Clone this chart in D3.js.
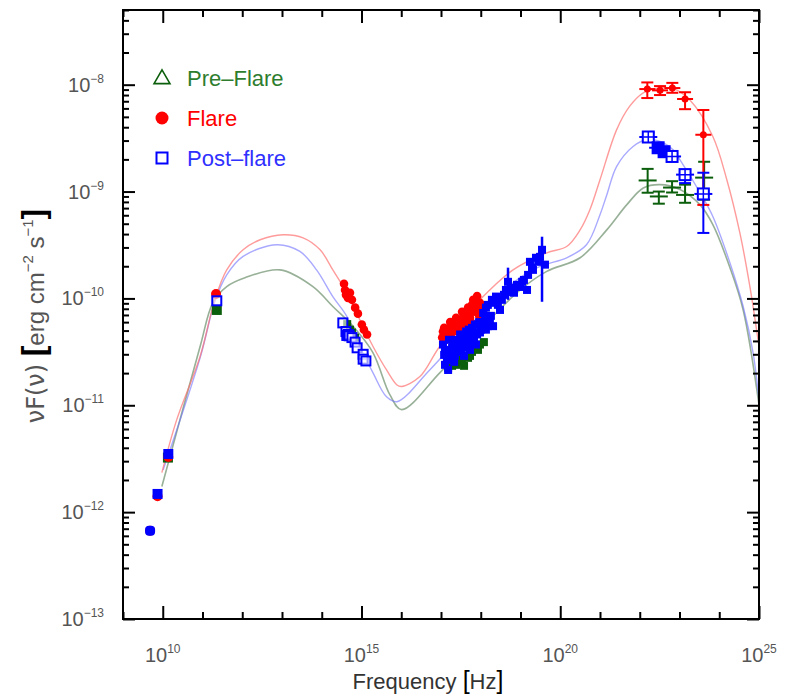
<!DOCTYPE html>
<html>
<head>
<meta charset="utf-8">
<script src="https://cdn.jsdelivr.net/npm/d3@7/dist/d3.min.js"></script>
<style>
body{margin:0;background:#fff;}
text{font-family:"Liberation Sans",Arial,sans-serif;}
</style>
</head>
<body>
<svg id="chart" width="803" height="700"></svg>
<script>
// ---------------- data ----------------
const xMajorExponents = [10, 15, 20, 25];
const yMajorExponents = [-8, -9, -10, -11, -12, -13];
const legendLabels = ["Pre\u2013Flare", "Flare", "Post\u2013flare"];

// model curves (Hz, erg cm^-2 s^-1)
const modelFlareNu   = [9.5e9, 2.24e10, 8.7e10, 2.04e11, 4.07e11, 1.05e12, 2.82e12, 1.07e13, 3.39e13, 9.1e13, 1.9e14, 4.27e14, 9.1e14, 1.95e15, 4.27e15, 7.8e15, 1.02e16, 2.95e16, 9.3e16, 9.5e17, 6.5e18, 4.57e19, 1.45e20, 3.16e20, 5.6e20, 1.0e21, 2.63e21, 5.6e21, 1.23e22, 3.24e22, 7.0e22, 1.82e23, 6.9e23, 1.55e24, 3.3e24, 5.9e24, 1e25];
const modelFlareFlux = [2.34e-12, 7.3e-12, 2.86e-11, 9.7e-11, 1.85e-10, 2.85e-10, 3.54e-10, 3.94e-10, 3.69e-10, 2.85e-10, 1.85e-10, 1.13e-10, 6.3e-11, 3.55e-11, 2.14e-11, 1.55e-11, 1.5e-11, 1.86e-11, 3.55e-11, 9.7e-11, 1.85e-10, 2.67e-10, 3.06e-10, 4.38e-10, 6.8e-10, 1.29e-9, 3.8e-9, 6.3e-9, 8.4e-9, 9.3e-9, 9.2e-9, 7.2e-9, 3.28e-9, 1.29e-9, 4.1e-10, 1.29e-10, 3.55e-11];

const modelPostNu   = [1.02e10, 8.7e10, 2.04e11, 4.07e11, 1.05e12, 7.4e12, 2.82e13, 7.4e13, 1.9e14, 4.27e14, 9.1e14, 1.95e15, 4.27e15, 7.8e15, 5.2e16, 9.5e17, 6.5e18, 3.1e19, 1.45e20, 4.57e20, 1.0e21, 1.48e21, 2.63e21, 6.8e21, 1.48e22, 3.24e22, 6.9e22, 1.02e23, 3.3e23, 6.9e23, 1.86e24, 4.0e24, 7.1e24, 1e25];
const modelPostFlux = [2.48e-12, 2.78e-11, 9.3e-11, 1.66e-10, 2.47e-10, 3.18e-10, 2.75e-10, 1.85e-10, 1.04e-10, 6.8e-11, 3.55e-11, 2.01e-11, 1.2e-11, 1.08e-11, 2.14e-11, 7.0e-11, 1.4e-10, 1.99e-10, 2.4e-10, 3.18e-10, 6.07e-10, 9.3e-10, 1.72e-9, 2.64e-9, 3.05e-9, 2.94e-9, 2.46e-9, 1.99e-9, 9.75e-10, 5.85e-10, 2.15e-10, 8.4e-11, 3.1e-11, 1.12e-11];

const modelPreNu   = [9.5e9, 8.7e10, 1.82e11, 4.07e11, 1.17e12, 8.9e12, 6.0e13, 1.9e14, 6.2e14, 1.95e15, 5.2e15, 1.02e16, 9.3e16, 9.5e17, 9.8e18, 4.57e19, 3.16e20, 1.48e21, 4.68e21, 1.23e22, 3.24e22, 1e23, 3.3e23, 6.9e23, 1.86e24, 4.0e24, 1e25];
const modelPreFlux = [1.74e-12, 3.55e-11, 9.1e-11, 1.29e-10, 1.56e-10, 1.85e-10, 1.29e-10, 8.4e-11, 5.46e-11, 3.1e-11, 1.25e-11, 9.1e-12, 2.01e-11, 5.1e-11, 1.2e-10, 1.79e-10, 2.4e-10, 4.38e-10, 7.5e-10, 1.08e-9, 1.16e-9, 1.05e-9, 7.5e-10, 4.9e-10, 1.94e-10, 7.8e-11, 1.01e-11];

// Pre-flare observations (first two: radio, larger markers)
const preNu   = [1.35e10, 2.29e11, 4.37e14, 5.13e14, 5.75e14, 6.9e14, 1.51e17, 1.7e17, 1.9e17, 2.4e17, 3.02e17, 3.39e17, 3.8e17, 4.79e17, 5.37e17, 6.03e17, 7.59e17, 8.51e17, 9.55e17, 1.2e18];
const preFlux = [3.24e-12, 7.8e-11, 5.75e-11, 5.1e-11, 4.8e-11, 4.3e-11, 2.24e-11, 2.66e-11, 2.34e-11, 2.39e-11, 2.55e-11, 2.66e-11, 2.34e-11, 2.78e-11, 2.9e-11, 3.16e-11, 3.45e-11, 3.3e-11, 3.7e-11, 3.9e-11];
const preGammaNu   = [1.58e22, 3.02e22, 6.5e22, 1.38e23, 4.17e23];
const preGammaFlux = [1.27e-9, 9.0e-10, 1.09e-9, 9.3e-10, 1.35e-9];
const preGammaLo   = [9.75e-10, 7.7e-10, 9.8e-10, 7.85e-10, 8.4e-10];
const preGammaHi   = [1.63e-9, 1.0e-9, 1.25e-9, 1.16e-9, 1.9e-9];

// Flare observations (first four: radio)
const flareNu   = [4.8e9, 7.4e9, 1.38e10, 2.19e11, 3.63e14, 3.85e14, 4.07e14, 4.57e14, 5.13e14, 5.75e14, 6.92e14, 8.13e14, 1.02e15, 1.15e15, 1.38e15,
  1.07e17, 1.12e17, 1.2e17, 1.35e17, 1.41e17, 1.51e17, 1.7e17, 1.78e17, 1.9e17, 2.14e17, 2.24e17, 2.4e17, 2.51e17, 2.69e17, 3.02e17, 3.16e17, 3.39e17, 3.55e17, 3.8e17, 4.27e17, 4.47e17, 4.79e17, 5.0e17, 5.37e17, 5.6e17, 6.03e17, 6.46e17, 6.76e17, 7.2e17, 7.59e17, 8.1e17, 8.51e17, 9.1e17, 9.55e17, 1.07e18, 1.29e18];
const flareFlux = [6.7e-13, 1.41e-12, 3.28e-12, 1.1e-10, 1.37e-10, 1.2e-10, 1.08e-10, 1.01e-10, 1.13e-10, 9.7e-11, 8.2e-11, 7.2e-11, 5.7e-11, 5.1e-11, 4.6e-11,
  4.3e-11, 4.9e-11, 5.3e-11, 4.1e-11, 4.6e-11, 5.1e-11, 6.0e-11, 5.4e-11, 4.8e-11, 5.7e-11, 4.95e-11, 6.6e-11, 6.0e-11, 5.1e-11, 6.3e-11, 5.7e-11, 7.5e-11, 6.6e-11, 5.8e-11, 7.0e-11, 6.3e-11, 8.2e-11, 7.5e-11, 6.6e-11, 6.0e-11, 8.7e-11, 9.7e-11, 7.5e-11, 8.5e-11, 9.7e-11, 1.05e-10, 7.8e-11, 6.9e-11, 9.1e-11, 7.2e-11, 8.2e-11];
const flareGammaNu   = [1.55e22, 3.24e22, 6.6e22, 1.38e23, 3.98e23];
const flareGammaFlux = [9.1e-9, 8.85e-9, 9.3e-9, 7.35e-9, 3.4e-9];
const flareGammaLo   = [7.5e-9, 8.0e-9, 8.4e-9, 5.9e-9, 7.5e-10];
const flareGammaHi   = [1.05e-8, 9.7e-9, 1.04e-8, 8.5e-9, 5.8e-9];

// Post-flare observations
const postRadioNu   = [4.8e9, 7.4e9, 1.38e10];
const postRadioFlux = [6.7e-13, 1.48e-12, 3.5e-12];
const postOpenNu    = [2.29e11, 3.39e14, 4.07e14, 4.27e14, 4.68e14, 4.9e14, 5.75e14, 6.9e14, 7.76e14, 1.1e15, 1.1e15, 1.29e15];
const postOpenFlux  = [9.5e-11, 5.9e-11, 4.9e-11, 4.5e-11, 4.6e-11, 4.47e-11, 4.3e-11, 3.9e-11, 3.45e-11, 3.0e-11, 2.7e-11, 2.6e-11];
const postXrayNu   = [1.12e17, 1.2e17, 1.26e17, 1.26e17, 1.35e17, 1.41e17, 1.51e17, 1.59e17, 1.7e17, 1.78e17, 1.9e17, 2.0e17, 2.14e17, 2.24e17, 2.4e17, 2.51e17, 2.69e17, 2.82e17, 3.02e17, 3.16e17, 3.39e17, 3.55e17, 3.8e17, 3.98e17, 4.27e17, 4.47e17, 4.79e17, 5.0e17, 5.37e17, 5.6e17, 6.03e17, 6.3e17, 6.76e17, 7.1e17, 7.59e17, 8.1e17, 8.51e17, 9.1e17, 9.55e17, 1.0e18, 1.15e18, 1.29e18, 1.35e18, 1.51e18, 1.7e18, 1.8e18, 2.04e18,
  1.15e18, 1.35e18, 1.51e18, 1.91e18, 2.2e18, 2.42e18, 2.7e18, 3.05e18, 3.4e18, 3.85e18, 4.3e18, 4.85e18, 5.77e18, 6.3e18, 6.86e18, 8.17e18, 9.7e18, 1.1e19, 1.22e19, 1.46e19, 1.55e19, 1.73e19, 1.95e19, 2.06e19, 2.45e19, 2.8e19, 3.1e19, 3.48e19, 4.13e19];
const postXrayFlux = [3.7e-11, 2.96e-11, 2.39e-11, 3.16e-11, 3.3e-11, 2.66e-11, 2.14e-11, 4.1e-11, 2.78e-11, 3.16e-11, 3.45e-11, 3.84e-11, 2.55e-11, 2.9e-11, 4.1e-11, 3.6e-11, 3.16e-11, 3.9e-11, 4.6e-11, 3.16e-11, 3.7e-11, 4.3e-11, 2.9e-11, 3.45e-11, 4.9e-11, 4.3e-11, 3.9e-11, 5.1e-11, 3.3e-11, 4.1e-11, 5.3e-11, 4.8e-11, 4.3e-11, 5.7e-11, 3.7e-11, 4.6e-11, 5.7e-11, 6.0e-11, 4.8e-11, 5.1e-11, 6.0e-11, 6.6e-11, 5.1e-11, 5.5e-11, 6.3e-11, 6.87e-11, 5.5e-11,
  7.3e-11, 8.2e-11, 8.7e-11, 9.7e-11, 9.1e-11, 1.04e-10, 8.7e-11, 7.8e-11, 9.7e-11, 1.08e-10, 1.2e-10, 1.43e-10, 1.15e-10, 1.26e-10, 1.13e-10, 1.34e-10, 1.28e-10, 1.43e-10, 1.49e-10, 1.2e-10, 1.66e-10, 2.2e-10, 1.94e-10, 1.85e-10, 2.4e-10, 2.2e-10, 2.45e-10, 2.85e-10, 2.07e-10];
const postXrayErrNu = [4.85e18, 3.48e19];
const postXrayErrLo = [9.7e-11, 9.3e-11];
const postXrayErrHi = [1.94e-10, 3.78e-10];
const postGammaNu   = [1.64e22, 2.9e22, 4.1e22, 6.5e22, 1.38e23, 3.98e23];
const postGammaFlux = [3.24e-9, 2.57e-9, 2.36e-9, 2.13e-9, 1.44e-9, 9.5e-10];
const postGammaLo   = [2.95e-9, 2.4e-9, 2.2e-9, 2.0e-9, 1.2e-9, 4.1e-10];
const postGammaHi   = [3.55e-9, 2.75e-9, 2.5e-9, 2.27e-9, 1.6e-9, 1.5e-9];
const postGammaFilled = [false, true, true, false, false, false];

// ---------------- drawing ----------------
const L = 123, R = 759, T = 10, B = 619;
const svg = d3.select("#chart");
const x = d3.scaleLog().domain([1e9, 1e25]).range([L, R]);
const y = d3.scaleLog().domain([1e-13, 5e-8]).range([B, T]);

const cPre = "#0b5e0b", cFlare = "#ff0000", cPost = "#0000ff";
const minus = "\u2212";

svg.append("defs").append("clipPath").attr("id", "clip")
  .append("rect").attr("x", L).attr("y", T).attr("width", R - L).attr("height", B - T);

// model curves
const line = d3.line().x(d => x(d[0])).y(d => y(d[1])).curve(d3.curveCatmullRom.alpha(0.5));
const curves = svg.append("g").attr("clip-path", "url(#clip)").attr("fill", "none");
curves.append("path").attr("d", line(d3.zip(modelPreNu, modelPreFlux)))
  .attr("stroke", "#5f855f").attr("stroke-opacity", 0.65).attr("stroke-width", 1.6);
curves.append("path").attr("d", line(d3.zip(modelPostNu, modelPostFlux)))
  .attr("stroke", "#6f6fff").attr("stroke-opacity", 0.6).attr("stroke-width", 1.4);
curves.append("path").attr("d", line(d3.zip(modelFlareNu, modelFlareFlux)))
  .attr("stroke", "#ff7070").attr("stroke-opacity", 0.7).attr("stroke-width", 1.4);

function gammaBars(g, nu, f, lo, hi, color, hw) {
  const d = d3.range(nu.length);
  g.selectAll(null).data(d).join("line")
    .attr("x1", i => x(nu[i])).attr("x2", i => x(nu[i]))
    .attr("y1", i => y(lo[i])).attr("y2", i => y(hi[i]))
    .attr("stroke", color).attr("stroke-width", 2);
  [lo, hi].forEach(arr => {
    g.selectAll(null).data(d).join("line")
      .attr("x1", i => x(nu[i]) - 6).attr("x2", i => x(nu[i]) + 6)
      .attr("y1", i => y(arr[i])).attr("y2", i => y(arr[i]))
      .attr("stroke", color).attr("stroke-width", 2);
  });
  g.selectAll(null).data(d).join("line")
    .attr("x1", i => x(nu[i]) - hw).attr("x2", i => x(nu[i]) + hw)
    .attr("y1", i => y(f[i])).attr("y2", i => y(f[i]))
    .attr("stroke", color).attr("stroke-width", 2);
}

const pts = svg.append("g");

// pre-flare
const gPre = pts.append("g");
gPre.selectAll("rect").data(d3.range(preNu.length)).join("rect")
  .attr("x", i => x(preNu[i]) - (i < 2 ? 5 : 4)).attr("y", i => y(preFlux[i]) - (i < 2 ? 5 : 4))
  .attr("width", i => i < 2 ? 10 : 8).attr("height", i => i < 2 ? 10 : 8)
  .attr("fill", cPre);
gammaBars(gPre, preGammaNu, preGammaFlux, preGammaLo, preGammaHi, cPre, 9);

// flare
const gFl = pts.append("g");
gFl.selectAll("circle").data(d3.range(flareNu.length)).join("circle")
  .attr("cx", i => x(flareNu[i])).attr("cy", i => y(flareFlux[i]))
  .attr("r", i => i < 4 ? 5 : 4.3).attr("fill", cFlare);
gammaBars(gFl, flareGammaNu, flareGammaFlux, flareGammaLo, flareGammaHi, cFlare, 8);
gFl.selectAll(".gm").data(d3.range(flareGammaNu.length)).join("circle")
  .attr("cx", i => x(flareGammaNu[i])).attr("cy", i => y(flareGammaFlux[i]))
  .attr("r", 3.5).attr("fill", cFlare);

// post-flare
const gPo = pts.append("g");
gPo.selectAll(".rad").data(d3.range(postRadioNu.length)).join("rect")
  .attr("x", i => x(postRadioNu[i]) - 5).attr("y", i => y(postRadioFlux[i]) - 5)
  .attr("width", 10).attr("height", 10).attr("rx", i => i === 0 ? 4 : 0)
  .attr("fill", cPost);
gPo.selectAll(".xr").data(d3.range(postXrayNu.length)).join("rect")
  .attr("x", i => x(postXrayNu[i]) - 4).attr("y", i => y(postXrayFlux[i]) - 4)
  .attr("width", 8).attr("height", 8).attr("fill", cPost);
gPo.selectAll(".xe").data(d3.range(postXrayErrNu.length)).join("line")
  .attr("x1", i => x(postXrayErrNu[i])).attr("x2", i => x(postXrayErrNu[i]))
  .attr("y1", i => y(postXrayErrLo[i])).attr("y2", i => y(postXrayErrHi[i]))
  .attr("stroke", cPost).attr("stroke-width", 2.5);
gPo.selectAll(".op").data(d3.range(postOpenNu.length)).join("rect")
  .attr("x", i => x(postOpenNu[i]) - 4.5).attr("y", i => y(postOpenFlux[i]) - 4.5)
  .attr("width", 9).attr("height", 9).attr("fill", "#fff").attr("fill-opacity", 0.6)
  .attr("stroke", cPost).attr("stroke-width", 2);
gammaBars(gPo, postGammaNu, postGammaFlux, postGammaLo, postGammaHi, cPost, 9);
gPo.selectAll(".gs").data(d3.range(postGammaNu.length)).join("g")
  .attr("transform", i => `translate(${x(postGammaNu[i])},${y(postGammaFlux[i])})`)
  .each(function (i) {
    const s = d3.select(this);
    s.append("rect").attr("x", -5.5).attr("y", -5.5).attr("width", 11).attr("height", 11)
      .attr("fill", postGammaFilled[i] ? cPost : "#fff").attr("stroke", cPost).attr("stroke-width", 2);
    if (!postGammaFilled[i])
      s.append("path").attr("d", "M-5,0H5M0,-5V5").attr("stroke", cPost).attr("stroke-width", 1.5);
  });

// ---------------- axes ----------------
const xMajor = xMajorExponents.map(e => 10 ** e);
const xMinor = d3.range(9, 26).filter(e => !xMajorExponents.includes(e)).map(e => 10 ** e);
const yMajor = yMajorExponents.map(e => 10 ** e);
const yMinor = [];
d3.range(-13, -7).forEach(e => d3.range(2, 10).forEach(m => { if (m * 10 ** e <= 5e-8) yMinor.push(m * 10 ** e); }));

function axisG(axis, tr) {
  const g = svg.append("g").attr("transform", tr).call(axis);
  g.select(".domain").remove();
  g.selectAll(".tick line").attr("stroke", "#000").attr("stroke-width", 2);
  g.selectAll(".tick text").remove();
  return g;
}
axisG(d3.axisBottom(x).tickValues(xMajor).tickSize(-13), `translate(0,${B})`);
axisG(d3.axisBottom(x).tickValues(xMinor).tickSize(-7), `translate(0,${B})`);
axisG(d3.axisTop(x).tickValues(xMajor).tickSize(-13), `translate(0,${T})`);
axisG(d3.axisTop(x).tickValues(xMinor).tickSize(-7), `translate(0,${T})`);
axisG(d3.axisLeft(y).tickValues(yMajor).tickSize(-12), `translate(${L},0)`);
axisG(d3.axisLeft(y).tickValues(yMinor).tickSize(-6), `translate(${L},0)`);
axisG(d3.axisRight(y).tickValues(yMajor).tickSize(-12), `translate(${R},0)`);
axisG(d3.axisRight(y).tickValues(yMinor).tickSize(-6), `translate(${R},0)`);

svg.append("rect").attr("x", L).attr("y", T).attr("width", R - L).attr("height", B - T)
  .attr("fill", "none").attr("stroke", "#000").attr("stroke-width", 2);

// tick labels
const labCol = "#555";
xMajorExponents.forEach(e => {
  const t = svg.append("text").attr("x", x(10 ** e)).attr("y", 662)
    .attr("text-anchor", "middle").attr("fill", labCol).attr("font-size", 20);
  t.append("tspan").text("10");
  t.append("tspan").attr("dy", -9).attr("font-size", 12).text(e);
});
yMajorExponents.forEach(e => {
  const t = svg.append("text").attr("x", 104).attr("y", y(10 ** e) + 7)
    .attr("text-anchor", "end").attr("fill", labCol).attr("font-size", 20);
  t.append("tspan").text("10");
  t.append("tspan").attr("dy", -9).attr("font-size", 12).text(minus + (-e));
});

// axis titles
const xt = svg.append("text").attr("x", 428).attr("y", 689).attr("text-anchor", "middle")
  .attr("font-size", 22).attr("fill", "#333");
xt.append("tspan").text("Frequency ");
xt.append("tspan").attr("fill", "#000").attr("font-size", 25).text("[");
xt.append("tspan").text("Hz");
xt.append("tspan").attr("fill", "#000").attr("font-size", 25).text("]");

const yt = svg.append("text").attr("transform", "translate(44,316) rotate(-90)")
  .attr("text-anchor", "middle").attr("font-size", 24).attr("fill", "#555");
yt.append("tspan").attr("font-family", "DejaVu Sans").text("\u03bdF(\u03bd) ");
yt.append("tspan").attr("fill", "#000").attr("font-weight", "bold").attr("font-size", 32).text("[");
yt.append("tspan").text("erg cm");
yt.append("tspan").attr("dy", -11).attr("font-size", 15).text(minus + "2");
yt.append("tspan").attr("dy", 11).text(" s");
yt.append("tspan").attr("dy", -11).attr("font-size", 15).text(minus + "1");
yt.append("tspan").attr("dy", 11).attr("fill", "#000").attr("font-weight", "bold").attr("font-size", 32).text("]");

// legend
const legendColors = ["#2e7d2e", cFlare, "#3030ff"];
const lg = svg.append("g");
legendLabels.forEach((lab, i) => {
  const cy = 78 + i * 40;
  if (i === 0) {
    lg.append("path").attr("d", d3.symbol(d3.symbolTriangle, 110)())
      .attr("transform", `translate(162,${cy + 1})`).attr("fill", "none")
      .attr("stroke", cPre).attr("stroke-width", 1.6);
  } else if (i === 1) {
    lg.append("circle").attr("cx", 162).attr("cy", cy).attr("r", 6.5).attr("fill", cFlare);
  } else {
    lg.append("rect").attr("x", 156.5).attr("y", cy - 5.5).attr("width", 11).attr("height", 11)
      .attr("fill", "none").attr("stroke", cPost).attr("stroke-width", 2);
  }
  lg.append("text").attr("x", 187).attr("y", cy + 8).attr("font-size", 22)
    .attr("fill", legendColors[i]).text(lab);
});
</script>
</body>
</html>
